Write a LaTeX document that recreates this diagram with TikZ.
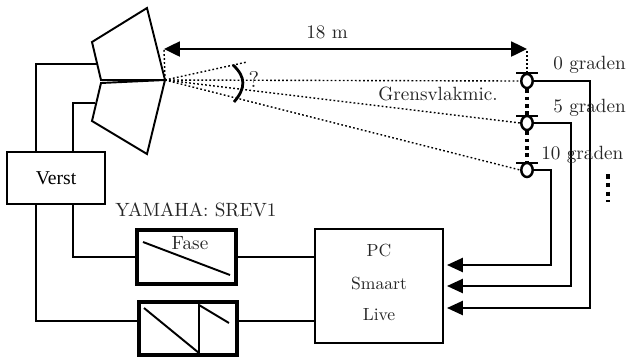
\documentclass[tikz,border=0pt]{standalone}
\usepackage{fontspec}
\newfontfamily\timesfont{Liberation Serif}
\usetikzlibrary{positioning, arrows.meta}
\tikzset{
	wire/.style={line width=1.1pt, line join=miter},
	box/.style={draw, line width=1.1pt, inner sep=0pt},
	fxbox/.style={draw, line width=2.2pt, inner sep=0pt, minimum width=56pt, minimum height=30.5pt},
	mic/.style={draw, ellipse, line width=1.4pt, inner sep=0pt, minimum width=6.5pt, minimum height=8pt},
	ray/.style={line width=0.8pt, dash pattern=on 1pt off 1.3pt},
	tipL/.style={-{Triangle[length=9pt,width=8pt]}},
	lbl/.style={font=\fontsize{10.9}{12}\selectfont, text=black!85, inner sep=0pt},
}
\usetikzlibrary{shapes.geometric}
\begin{document}
\begin{tikzpicture}[x=0.02cm, y=-0.02cm]
	\useasboundingbox (0,0) rectangle (630,360);
	% horns
	\coordinate (mouth) at (165,80);
	\coordinate (hornup) at (98,64);
	\coordinate (horndown) at (95,103);
	\draw[wire] (92,42) -- (147,8) -- (mouth) -- (101,80) -- cycle;
	\draw[wire] (101,83) -- (mouth) -- (147,154) -- (92,121) -- cycle;
	% boxes
	\node[box, minimum width=55.5pt, minimum height=30pt, font=\timesfont\fontsize{11.2}{12}\selectfont] (verst) at (56,178) {Verst};
	\node[fxbox] (fase) at (186.5,257) {};
	\node[fxbox] (saw) at (188,328.5) {};
	\node[box, minimum width=72.5pt, minimum height=64.6pt] (pc) at (379,286) {};
	\node[lbl, font=\fontsize{10}{12}\selectfont] (pctop) at (379,250) {PC};
	\node[lbl, font=\fontsize{10}{12}\selectfont] (pcmid) at (379,283) {Smaart};
	\node[lbl, font=\fontsize{10}{12}\selectfont] (pclow) at (379,315) {Live};
	% curves in the two effect boxes
	\draw[line width=1.1pt] (143,242) -- (230,275);
	\draw[line width=1.1pt] (144,308) -- (199,353) -- (199,305) -- (229,323);
	% wiring of the left side
	\coordinate (tapa) at (36,151);
	\coordinate (tapb) at (73,151);
	\coordinate (sawl) at (saw.west |- 0,321);
	\coordinate (sawr) at (saw.east |- 0,321);
	\draw[wire] (hornup) -| (tapa);
	\draw[wire] (horndown) -| (tapb);
	\draw[wire] (verst.south -| tapb) |- (fase.west);
	\draw[wire] (verst.south -| tapa) |- (sawl);
	\draw[wire] (fase.east) -- (fase.east -| pc.west);
	\draw[wire] (sawr) -- (sawr -| pc.west);
	% microphones
	\node[mic] (mica) at (527,81) {};
	\node[mic] (micb) at (527,123) {};
	\node[mic] (micc) at (527,170) {};
	\coordinate (bara) at (527,73);
	\coordinate (barb) at (527,116);
	\coordinate (barc) at (527,163);
	\foreach \n in {bara, barb, barc}
		\draw[line width=1.1pt] ([xshift=-6pt]\n) -- ([xshift=6pt]\n);
	\draw[line width=1.8pt, dash pattern=on 2pt off 2.2pt] (mica) -- (micb);
	\draw[line width=1.8pt, dash pattern=on 2pt off 2.2pt] (micb) -- (micc);
	% distance
	\coordinate (distl) at (164,49);
	\coordinate (distr) at (527,49);
	\draw[line width=1.2pt, {Triangle[length=9pt,width=8.5pt]}-{Triangle[length=9pt,width=8.5pt]}] (distl) -- (distr);
	\draw[ray] (mouth) -- (distl);
	\draw[ray] (bara) -- (distr);
	% rays
	\coordinate (rayend) at (247,62);
	\draw[ray] (mouth) -- (rayend);
	\draw[ray] (mouth) -- (mica.west);
	\draw[ray] (mouth) -- (micb.west);
	\draw[ray] (mouth) -- (micc.west);
	\draw[line width=1.6pt] (233,65) .. controls (246,77) and (246,88) .. (234,102);
	% to the computer
	\coordinate (ina) at (447,265);
	\coordinate (inb) at (447,286);
	\coordinate (inc) at (447,308);
	\coordinate (cola) at (551,200);
	\coordinate (colb) at (571,200);
	\coordinate (colc) at (590,200);
	\draw[wire, tipL] (micc.east) -| (cola) |- (ina);
	\draw[wire, tipL] (micb.east) -| (colb) |- (inb);
	\draw[wire, tipL] (mica.east) -| (colc) |- (inc);
	\draw[line width=2.6pt, dash pattern=on 2.6pt off 2.4pt] (608,174) -- (608,202);
	% labels
	\node[lbl] (dist) at (327,32) {18 m};
	\node[lbl, font=\fontsize{13}{13}\selectfont] (angle) at (254,79) {?};
	\node[lbl, anchor=west] (laba) at (553,65) {0 graden};
	\node[lbl, anchor=west] (labb) at (553,108) {5 graden};
	\node[lbl, anchor=west] (labc) at (541,155) {10 graden};
	\node[lbl, anchor=west] (labg) at (378,94) {Grensvlakmic.};
	\node[lbl, anchor=west] (labe) at (115,210) {YAMAHA: SREV1};
	\node[lbl] (labf) at (190,243) {Fase};
\end{tikzpicture}
\end{document}
